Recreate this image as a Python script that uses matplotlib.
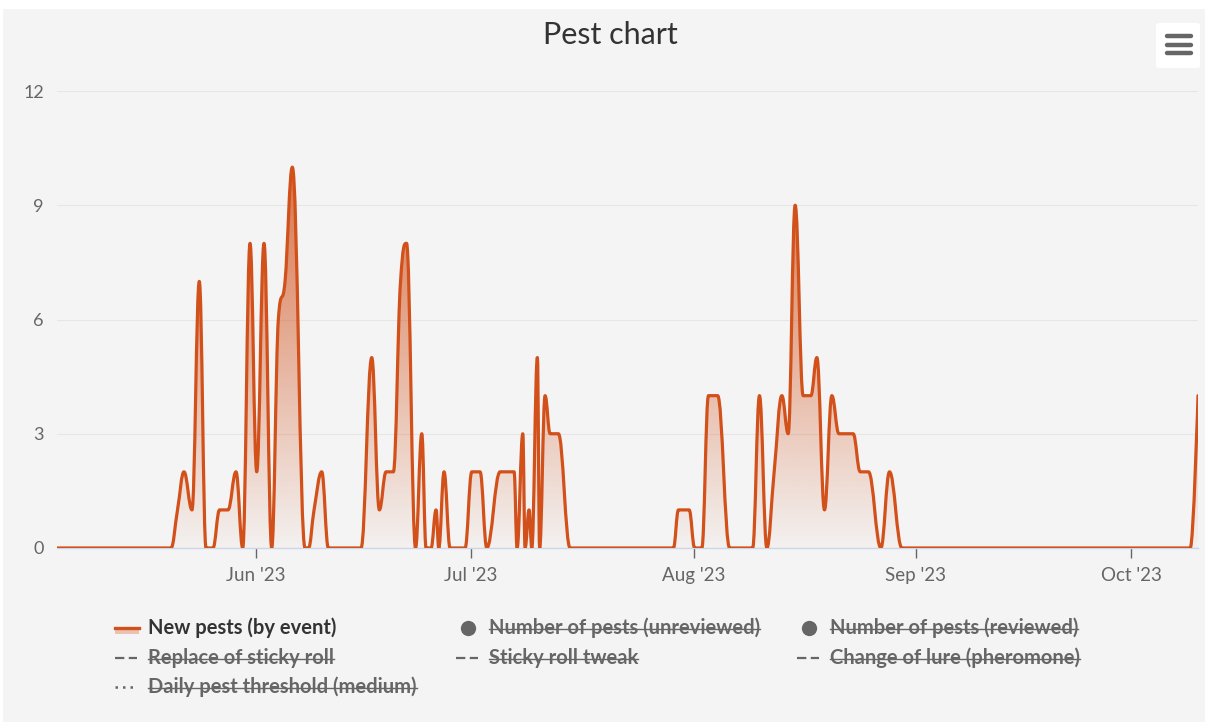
import numpy as np
import matplotlib
matplotlib.use('Agg')
import matplotlib.pyplot as plt
import matplotlib.dates as mdates
from matplotlib.path import Path
from matplotlib.patches import PathPatch, FancyBboxPatch, Rectangle
from matplotlib.lines import Line2D
import pandas as pd

plt.rcParams['font.family'] = ['Lato', 'DejaVu Sans']

# ---- data ----
title = 'Pest chart'
event_times = [
    '2023-05-04 06:00', '2023-05-20 03:30', '2023-05-21 01:15', '2023-05-21 23:00',
    '2023-05-23 01:45', '2023-05-24 02:10', '2023-05-25 00:40', '2023-05-26 00:00',
    '2023-05-26 22:00', '2023-05-28 02:15', '2023-05-29 05:00', '2023-05-30 03:30',
    '2023-05-31 04:00', '2023-06-01 02:20', '2023-06-02 02:45', '2023-06-03 04:30',
    '2023-06-04 02:40', '2023-06-05 01:05', '2023-06-06 01:30', '2023-06-07 20:00',
    '2023-06-08 07:45', '2023-06-09 02:10', '2023-06-10 03:55', '2023-06-11 02:00',
    '2023-06-15 15:30', '2023-06-17 03:15', '2023-06-18 04:45', '2023-06-19 03:10',
    '2023-06-20 03:35', '2023-06-21 03:40', '2023-06-21 23:45', '2023-06-23 05:50',
    '2023-06-24 02:40', '2023-06-24 17:00', '2023-06-25 09:45', '2023-06-26 02:30',
    '2023-06-26 11:30', '2023-06-27 05:15', '2023-06-28 01:20', '2023-06-30 03:35',
    '2023-07-01 02:00', '2023-07-02 05:45', '2023-07-03 04:15', '2023-07-05 00:45',
    '2023-07-06 23:35', '2023-07-07 09:40', '2023-07-08 04:45', '2023-07-08 12:25',
    '2023-07-09 01:50', '2023-07-09 10:50', '2023-07-10 05:35', '2023-07-10 13:00',
    '2023-07-11 07:20', '2023-07-12 00:05', '2023-07-13 03:50', '2023-07-14 19:00',
    '2023-07-29 04:50', '2023-07-29 21:30', '2023-07-31 09:25', '2023-08-01 03:50',
    '2023-08-02 03:55', '2023-08-03 02:00', '2023-08-04 08:45', '2023-08-06 00:55',
    '2023-08-09 05:55', '2023-08-10 04:40', '2023-08-11 05:25', '2023-08-12 05:50',
    '2023-08-13 07:40', '2023-08-14 04:45', '2023-08-15 04:10', '2023-08-16 06:55',
    '2023-08-17 08:45', '2023-08-18 04:50', '2023-08-19 06:15', '2023-08-20 07:00',
    '2023-08-21 06:25', '2023-08-23 06:20', '2023-08-24 05:45', '2023-08-25 09:30',
    '2023-08-27 03:00', '2023-08-28 07:50', '2023-08-30 01:20', '2023-10-09 06:20',
    '2023-10-10 08:10',
]
new_pests = [
    0, 0, 1, 2,
    1, 7, 0, 0,
    1, 1, 2, 0,
    8, 2, 8, 0,
    6, 7, 10, 0,
    0, 1, 2, 0,
    0, 5, 1, 2,
    2, 7, 8, 0,
    3, 0, 0, 1,
    0, 2, 0, 0,
    2, 2, 0, 2,
    2, 0, 3, 0,
    1, 0, 5, 0,
    4, 3, 3, 0,
    0, 1, 1, 0,
    0, 4, 4, 0,
    0, 4, 0, 2,
    4, 3, 9, 4,
    4, 5, 1, 4,
    3, 3, 2, 2,
    0, 2, 0, 0,
    4,
]
y_ticks = [0, 3, 6, 9, 12]
month_ticks = ['2023-06-01', '2023-07-01', '2023-08-01', '2023-09-01', '2023-10-01']
month_labels = ["Jun '23", "Jul '23", "Aug '23", "Sep '23", "Oct '23"]

legend_labels = ['New pests (by event)', 'Number of pests (unreviewed)', 'Number of pests (reviewed)',
                 'Replace of sticky roll', 'Sticky roll tweak', 'Change of lure (pheromone)',
                 'Daily pest threshold (medium)']
legend_symbols = ['area', 'circle', 'circle', 'dash', 'dash', 'dash', 'dot']
legend_visible = [True, False, False, False, False, False, False]

line_color = '#d2501a'
W, H = 1205, 722


def fx(x):
    return x / W


def fy(y):
    return 1 - y / H


def spline_path(xs, ys):
    # same smoothing as the highcharts spline series
    s = 1.5
    den = s + 1
    n = len(xs)
    verts = [(xs[0], ys[0])]
    codes = [Path.MOVETO]
    right = [None] * n
    for i in range(1, n):
        px, py = xs[i], ys[i]
        lcx, lcy = px, py
        if i < n - 1:
            lx, ly = xs[i - 1], ys[i - 1]
            nx, ny = xs[i + 1], ys[i + 1]
            lcx = (s * px + lx) / den
            lcy = (s * py + ly) / den
            rcx = (s * px + nx) / den
            rcy = (s * py + ny) / den
            corr = 0
            if rcx != lcx:
                corr = (rcy - lcy) * (rcx - px) / (rcx - lcx) + py - rcy
            lcy += corr
            rcy += corr
            if lcy > ly and lcy > py:
                lcy = max(ly, py)
                rcy = 2 * py - lcy
            elif lcy < ly and lcy < py:
                lcy = min(ly, py)
                rcy = 2 * py - lcy
            if rcy > ny and rcy > py:
                rcy = max(ny, py)
                lcy = 2 * py - rcy
            elif rcy < ny and rcy < py:
                rcy = min(ny, py)
                lcy = 2 * py - rcy
            right[i] = (rcx, rcy)
        c1 = right[i - 1] if right[i - 1] is not None else (xs[i - 1], ys[i - 1])
        verts += [c1, (lcx, lcy), (px, py)]
        codes += [Path.CURVE4] * 3
    return verts, codes


fig = plt.figure(figsize=(W / 100, H / 100), dpi=100)
fig.patch.set_facecolor('white')
fig.patches.append(Rectangle((fx(3), 0), 1 - fx(3), fy(9), transform=fig.transFigure,
                             facecolor='#f4f4f4', edgecolor='none', zorder=-10))

ax = fig.add_axes([fx(57), fy(548), fx(1198) - fx(57), (548 - 91) / H])
ax.set_facecolor('none')

xs = mdates.date2num(pd.to_datetime(event_times).to_pydatetime())
ys = np.array(new_pests, dtype=float)

verts, codes = spline_path(list(xs), list(ys))
line = PathPatch(Path(verts, codes), facecolor='none', edgecolor=line_color, lw=2.3,
                 zorder=4, joinstyle='round', capstyle='round')
area_verts = verts + [(xs[-1], 0), (xs[0], 0), (xs[0], 0)]
area_codes = codes + [Path.LINETO, Path.LINETO, Path.CLOSEPOLY]
area = PathPatch(Path(area_verts, area_codes), facecolor='none', edgecolor='none')
ax.add_patch(area)

rgb = matplotlib.colors.to_rgb(line_color)
grad = np.zeros((256, 1, 4))
grad[:, 0, :3] = rgb
grad[:, 0, 3] = np.linspace(0.02, 0.78, 256)
im = ax.imshow(grad, extent=[xs[0], xs[-1], 0, ys.max()], origin='lower', aspect='auto',
               interpolation='bilinear', zorder=2)
im.set_clip_path(area)
ax.add_patch(line)

ax.set_xlim(xs[0], xs[-1])
ax.set_ylim(0, 12)
ax.set_yticks(y_ticks)
ax.set_yticklabels([str(v) for v in y_ticks])
ax.set_xticks(mdates.date2num(pd.to_datetime(month_ticks).to_pydatetime()))
ax.set_xticklabels(month_labels)
ax.grid(axis='y', color='#e6e6e6', lw=0.8)
ax.set_axisbelow(True)
for side in ['top', 'right', 'left']:
    ax.spines[side].set_visible(False)
ax.spines['bottom'].set_color('#ccd6eb')
ax.spines['bottom'].set_linewidth(1.0)
ax.tick_params(axis='y', length=0, pad=9.5, labelsize=13, labelcolor='#666666')
ax.tick_params(axis='x', length=7.5, width=1.0, color='#666666', pad=6,
               labelsize=13.5, labelcolor='#666666')

fig.text(fx(610), fy(35), title, ha='center', va='center', fontsize=22, color='#333333')

# export menu button
fig.patches.append(FancyBboxPatch((fx(1156), fy(68)), fx(44), 45 / H, transform=fig.transFigure,
                                  boxstyle='round,pad=0,rounding_size=0.003',
                                  facecolor='white', edgecolor='none'))
for by in [36, 44.5, 53]:
    fig.lines.append(Line2D([fx(1167), fx(1191)], [fy(by), fy(by)], transform=fig.transFigure,
                            color='#666666', lw=3.2, solid_capstyle='round'))

# legend
col_x = [115, 456, 797]
row_y = [628, 658, 687]
renderer = fig.canvas.get_renderer()
for k, lab in enumerate(legend_labels):
    sx = col_x[k % 3]
    yy = row_y[k // 3]
    sym = legend_symbols[k]
    gray = '#666666'
    if sym == 'area':
        fig.patches.append(Rectangle((fx(sx), fy(yy + 6)), 24 / W, 6 / H, transform=fig.transFigure,
                                     facecolor=line_color, alpha=0.3, edgecolor='none'))
        fig.lines.append(Line2D([fx(sx), fx(sx + 24)], [fy(yy), fy(yy)], transform=fig.transFigure,
                                color=line_color, lw=2.4))
    elif sym == 'circle':
        fig.lines.append(Line2D([fx(sx + 12)], [fy(yy)], transform=fig.transFigure, marker='o',
                                markersize=11, color=gray, markeredgewidth=0))
    elif sym == 'dash':
        fig.lines.append(Line2D([fx(sx), fx(sx + 22)], [fy(yy), fy(yy)], transform=fig.transFigure,
                                color=gray, lw=1.6, dashes=(4.2, 2.0)))
    else:
        fig.lines.append(Line2D([fx(sx), fx(sx + 22)], [fy(yy), fy(yy)], transform=fig.transFigure,
                                color=gray, lw=1.8, dashes=(1, 2.0)))
    tcol = '#333333' if legend_visible[k] else gray
    t = fig.text(fx(sx + 33), fy(yy + 6), lab, ha='left', va='baseline', fontsize=14.5,
                 fontweight='bold', color=tcol)
    if not legend_visible[k]:
        bb = t.get_window_extent(renderer)
        fig.lines.append(Line2D([fx(bb.x0), fx(bb.x1)], [fy(yy + 0.5), fy(yy + 0.5)],
                                transform=fig.transFigure, color=gray, lw=1.0))

fig.savefig('out.png', dpi=100, facecolor=fig.get_facecolor())
